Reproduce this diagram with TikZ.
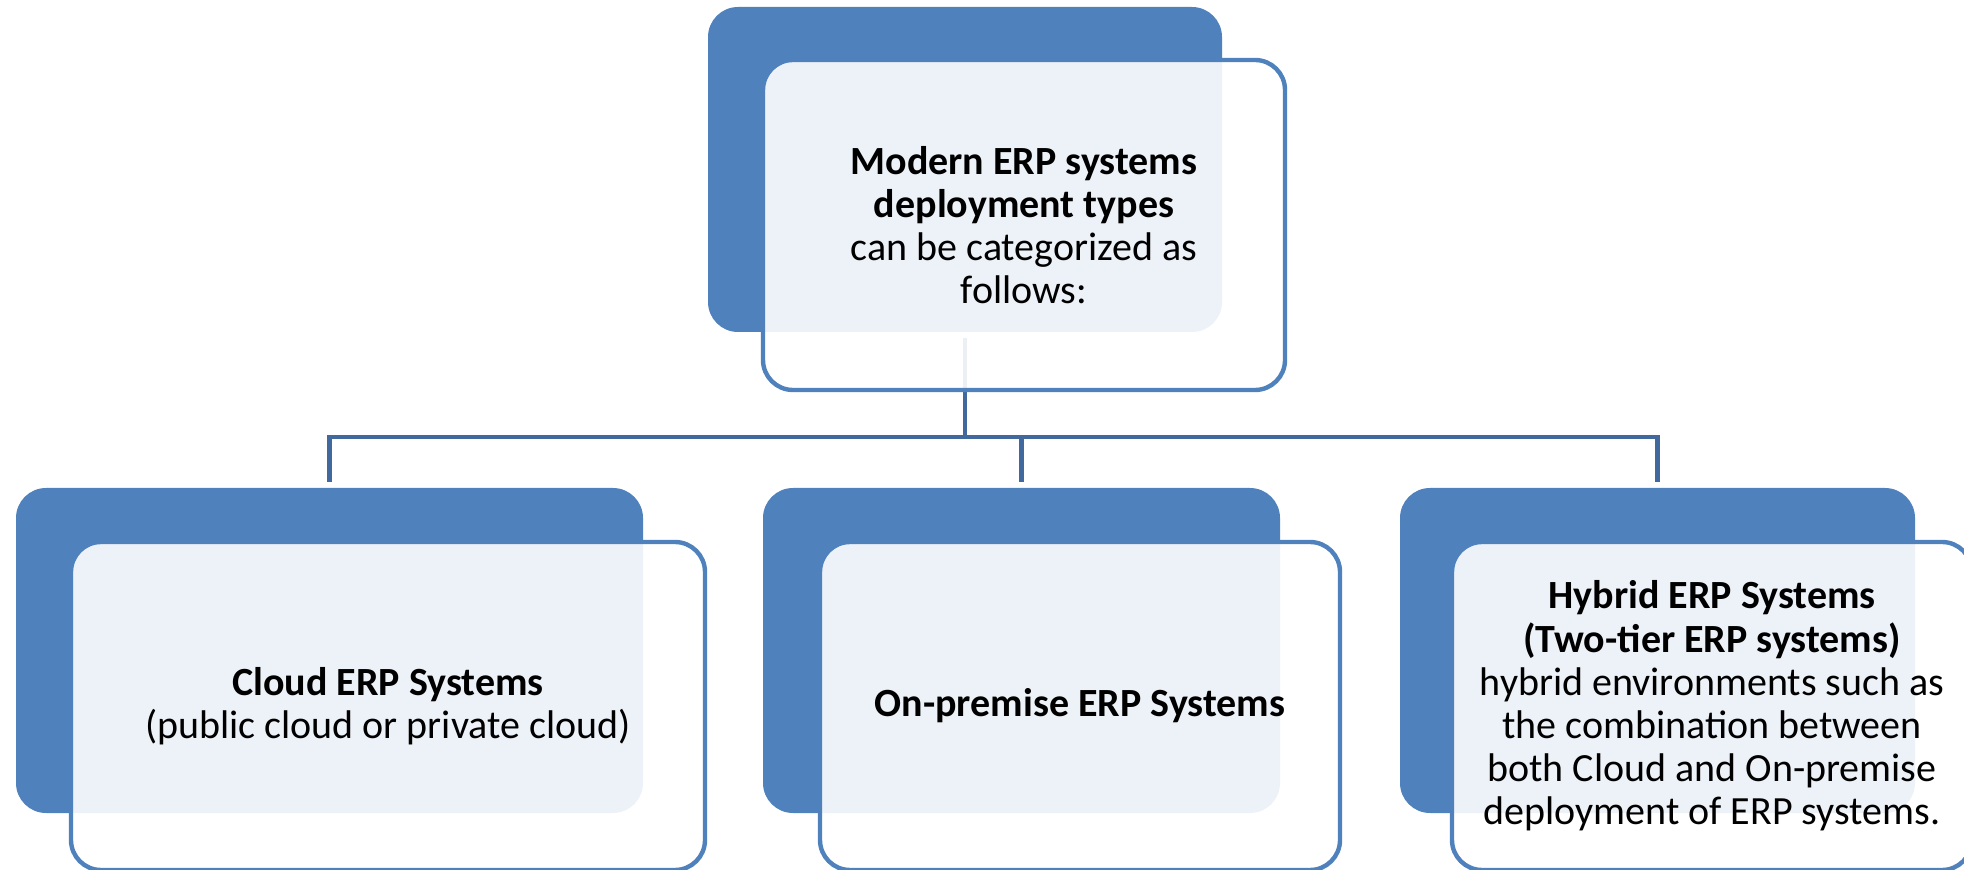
\documentclass[tikz,border=0pt]{standalone}
\usepackage{fontspec}
\setmainfont{Carlito}
\usetikzlibrary{positioning}
\definecolor{erpblue}{RGB}{79,129,189}
\definecolor{erpline}{RGB}{65,105,158}

\begin{document}
\begin{tikzpicture}[x=0.5pt,y=-0.5pt]
	\tikzstyle{every node}=[rectangle, rounded corners=15pt, inner sep=0pt, align=center, font=\fontsize{20}{21.6}\selectfont]
	\tikzstyle{back}=[fill=erpblue, minimum height=162.5pt]
	\tikzstyle{front}=[draw=erpblue, line width=2.2pt, fill=white, fill opacity=0.9, text opacity=1, minimum height=164pt]
	\tikzstyle{link}=[draw=erpline, line width=2.4pt]
	\useasboundingbox (0,0) rectangle (1964,870);

	\draw (965,169.5) node (topback) [back, minimum width=257pt]{};
	\draw (329.5,650.5) node (leftback) [back, minimum width=313.5pt]{};
	\draw (1021.5,650.5) node (midback) [back, minimum width=258.5pt]{};
	\draw (1657.5,650.5) node (rightback) [back, minimum width=257.5pt]{};

	% tree lines
	\coordinate (bus) at (965,437);
	\draw [link, shorten <=3pt] (topback.south) -- (bus);
	\draw [link, shorten <=3pt, shorten >=3pt] (leftback.north) |- (bus) -| (rightback.north);
	\draw [link, shorten >=3pt] (midback.north |- bus) -- (midback.north);

	\draw (1024,225) node (top) [front, minimum width=261pt, minimum height=165pt]{\textbf{Modern ERP systems}\\\textbf{deployment types}\\can be categorized as\\follows:};
	\draw (388,706) node (cloud) [front, minimum width=317pt]{\textbf{Cloud ERP Systems}\\(public cloud or private cloud)};
	\draw (1080,706) node (onprem) [front, minimum width=260pt]{\textbf{On-premise ERP Systems}};
	\draw (1712,706) node (hybrid) [front, minimum width=260pt]{\textbf{Hybrid ERP Systems}\\\textbf{(Two-tier ERP systems)}\\hybrid environments such as\\the combination between\\both Cloud and On-premise\\deployment of ERP systems.};
\end{tikzpicture}
\end{document}
